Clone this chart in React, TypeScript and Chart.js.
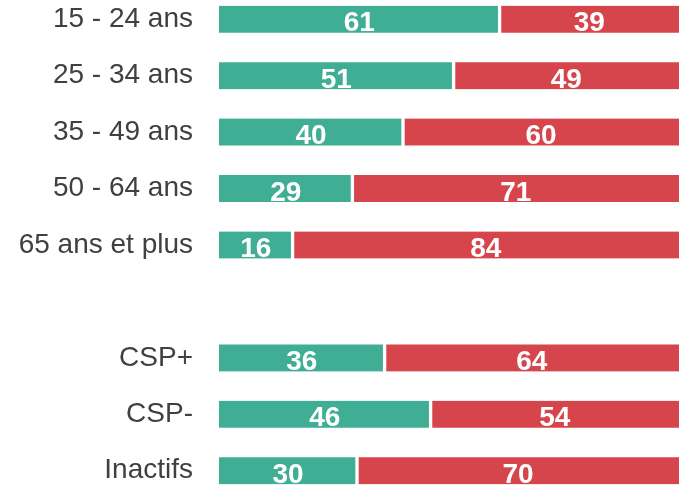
import React, { useEffect, useRef } from "react";
import { Chart, registerables } from "chart.js";

Chart.register(...registerables);

const categories = [
  "15 - 24 ans",
  "25 - 34 ans",
  "35 - 49 ans",
  "50 - 64 ans",
  "65 ans et plus",
  "",
  "CSP+",
  "CSP-",
  "Inactifs",
];
const greenValues = [61, 51, 40, 29, 16, null, 36, 46, 30];
const redValues = [39, 49, 60, 71, 84, null, 64, 54, 70];

const GREEN = "#3FAE94";
const RED = "#D6454B";
const FONT = "'Liberation Sans', Arial, Helvetica, sans-serif";

const valueLabels = {
  id: "valueLabels",
  afterDatasetsDraw(chart: any) {
    const ctx = chart.ctx;
    chart.data.datasets.forEach((ds: any, di: number) => {
      const meta = chart.getDatasetMeta(di);
      meta.data.forEach((el: any, i: number) => {
        const v = ds.data[i];
        if (v === null || v === undefined) return;
        const p = el.getProps(["x", "y", "base", "height"], true);
        const left = Math.min(p.x, p.base);
        const right = Math.max(p.x, p.base);
        const top = p.y - p.height / 2;
        ctx.save();
        ctx.beginPath();
        ctx.rect(left, top, right - left, p.height);
        ctx.clip();
        ctx.fillStyle = "#ffffff";
        ctx.font = `bold 28px ${FONT}`;
        ctx.textAlign = "center";
        ctx.textBaseline = "alphabetic";
        ctx.fillText(String(v), (left + right) / 2, p.y + 12);
        ctx.restore();
      });
    });
  },
};

export default function App() {
  const ref = useRef<HTMLCanvasElement | null>(null);
  useEffect(() => {
    if (!ref.current) return;
    const chart = new Chart(ref.current, {
      type: "bar",
      data: {
        labels: categories,
        datasets: [
          {
            data: greenValues as any,
            backgroundColor: GREEN,
            borderColor: "#ffffff",
            borderWidth: { left: 0, top: 0, bottom: 0, right: 2 } as any,
            borderSkipped: false,
            barThickness: 27,
          },
          {
            data: redValues as any,
            backgroundColor: RED,
            borderColor: "#ffffff",
            borderWidth: { left: 2, top: 0, bottom: 0, right: 0 } as any,
            borderSkipped: false,
            barThickness: 27,
          },
        ],
      },
      options: {
        indexAxis: "y",
        animation: false,
        responsive: false,
        maintainAspectRatio: false,
        layout: { padding: { left: 0, right: 13, top: 0, bottom: 0 } },
        plugins: {
          legend: { display: false },
          tooltip: { enabled: false },
        },
        scales: {
          x: {
            display: false,
            stacked: true,
            min: 0,
            max: 100,
          },
          y: {
            stacked: true,
            grid: { display: false, drawTicks: false },
            border: { display: false },
            ticks: {
              color: "#404040",
              font: { family: FONT, size: 28 },
              padding: 26,
              autoSkip: false,
            },
            afterFit(scale: any) {
              scale.width = 219;
              scale.paddingTop = 0;
              scale.paddingBottom = 0;
            },
          },
        },
      },
      plugins: [valueLabels],
    });
    return () => chart.destroy();
  }, []);

  return (
    <div
      style={{
        position: "fixed",
        left: 0,
        top: 0,
        width: 692,
        height: 490,
        overflow: "hidden",
        background: "#ffffff",
      }}
    >
      <div style={{ position: "absolute", left: 0, top: -9, width: 692, height: 508 }}>
        <canvas ref={ref} width={692} height={508} style={{ display: "block" }} />
      </div>
    </div>
  );
}
